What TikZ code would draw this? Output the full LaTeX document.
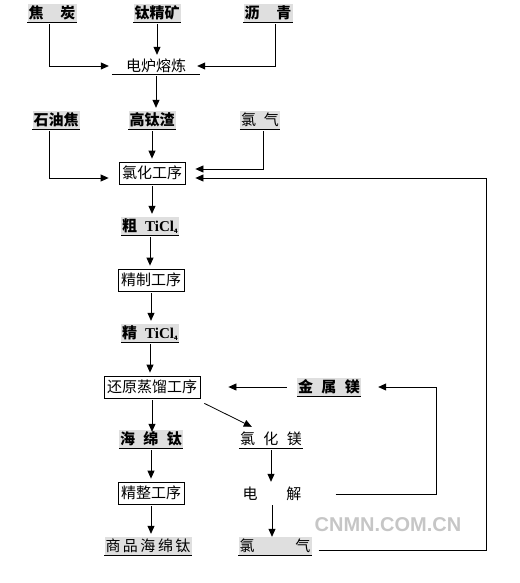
\documentclass[tikz,border=0pt]{standalone}
\usepackage{fontspec}
\newfontfamily\cjk{Noto Sans CJK SC}
\newfontfamily\latin{Liberation Serif}
\newfontfamily\wmark{Liberation Sans}
\usepackage{tikz}
\usetikzlibrary{arrows.meta}

\newcommand{\ticl}{{\latin\bfseries TiCl}\raisebox{-2pt}{\fontsize{6}{6}\selectfont 4}}

\begin{document}
\begin{tikzpicture}[x = 1pt, y = -1pt,
    every node/.style = {font = \cjk\fontsize{15}{17}\selectfont, inner sep = 1pt},
    stuff/.style = {fill = gray!25, minimum height = 18pt},
    uline/.style = {append after command = {(\tikzlastnode.south west) edge[line width = 0.8pt] (\tikzlastnode.south east)}},
    stage/.style = {draw, line width = 0.8pt, minimum height = 22pt, inner xsep = 3pt},
    flow/.style = {line width = 0.8pt, -{Triangle[length = 8pt, width = 7pt]}, shorten > = 3pt, shorten < = 2pt}]
    \useasboundingbox (+0.000, +0.000) rectangle (+519.000, +583.000);
    
    % Raw materials
    \node[stuff, uline] (coke) at (+52.000, +13.000) {\bfseries 焦\hspace{17pt}炭};
    %
    \node[stuff, uline] (ore) at (+157.000, +13.000) {\bfseries 钛精矿};
    %
    \node[stuff, uline] (pitch) at (+268.000, +13.000) {\bfseries 沥\hspace{17pt}青};
    
    \node[uline, minimum width = 88pt, minimum height = 16pt] (furnace) at (+156.000, +66.000) {电炉熔炼};
    
    \node[stuff, uline] (petcoke) at (+56.000, +120.000) {\bfseries 石油焦};
    %
    \node[stuff, uline] (slag) at (+152.000, +120.000) {\bfseries 高钛渣};
    %
    \node[stuff, uline] (chlorine) at (+260.000, +120.000) {氯\hspace{8pt}气};
    
    % Main line
    \node[stage] (chlor) at (+152.000, +173.000) {氯化工序};
    %
    \node[stuff, uline] (crude) at (+150.000, +226.000) {\bfseries 粗\hspace{8pt}\ticl};
    %
    \node[stage] (refine) at (+151.000, +280.000) {精制工序};
    %
    \node[stuff, uline] (pure) at (+150.000, +333.000) {\bfseries 精\hspace{8pt}\ticl};
    %
    \node[stage] (reduct) at (+152.000, +387.000) {还原蒸馏工序};
    %
    \node[stuff, uline] (sponge) at (+151.000, +439.000) {\bfseries 海\hspace{8.5pt}绵\hspace{8.5pt}钛};
    %
    \node[stage] (finish) at (+151.000, +493.000) {精整工序};
    %
    \node[stuff, uline] (product) at (+148.000, +546.000) {商\,品\,海\,绵\,钛};
    
    % Magnesium loop
    \node[stuff, uline] (magnesium) at (+329.000, +387.000) {\bfseries 金\hspace{8.5pt}属\hspace{8.5pt}镁};
    %
    \node[uline, minimum height = 18pt] (mgcl) at (+271.000, +439.000) {氯\hspace{8.5pt}化\hspace{8.5pt}镁};
    %
    \node[minimum height = 18pt] (elec) at (+272.000, +494.000) {电\hspace{29pt}解};
    %
    \node[stuff, uline] (gasb) at (+275.000, +546.000) {氯\hspace{41pt}气};
    
    \node[font = \wmark\bfseries\fontsize{20}{20}\selectfont, text = gray!45] (mark) at (+388.000, +525.000) {CNMN.COM.CN};
    
    \coordinate (back) at (+486.000, +550.000);
    %
    \coordinate (loop) at (+436.000, +494.000);
    
    % Arrows
    \draw[flow] ([xshift = -3pt]coke.south) |- (furnace.west);
    %
    \draw[flow] (ore.south) -- (ore.south |- furnace.north);
    %
    \draw[flow, shorten > = -3pt] ([xshift = 7pt]pitch.south) |- (furnace.east);
    
    \draw[flow] (furnace.south) -- (furnace.south |- slag.north);
    
    \draw[flow, shorten > = 10pt] ([xshift = -7pt]petcoke.south) |- ([yshift = -5pt]chlor.west);
    %
    \draw[flow] (slag.south) -- (slag.south |- chlor.north);
    %
    \draw[flow, shorten > = 10pt] ([xshift = 3pt]chlorine.south) |- ([yshift = 4pt]chlor.east);
    %
    \draw[flow, shorten < = 7pt, shorten > = 10pt] ([yshift = -4pt]gasb.east) -- (back) |- ([yshift = -5pt]chlor.east);
    
    \draw[flow] (chlor.south) -- (chlor.south |- crude.north);
    %
    \draw[flow] (crude.south) -- (crude.south |- refine.north);
    %
    \draw[flow] (refine.south) -- (refine.south |- pure.north);
    %
    \draw[flow] (pure.south) -- (pure.south |- reduct.north);
    %
    \draw[flow, shorten > = -2pt] (reduct.south) -- (reduct.south |- sponge.north);
    %
    \draw[flow] (sponge.south) -- (sponge.south |- finish.north);
    %
    \draw[flow] (finish.south) -- (finish.south |- product.north);
    
    \draw[flow, shorten < = 10pt, shorten > = 28pt] (magnesium.west) -- (reduct.east);
    %
    \draw[flow, shorten < = 0pt, shorten > = 0pt] ([shift = {(4pt, -5pt)}]reduct.south east) -- ([shift = {(13pt, 3pt)}]mgcl.north west);
    %
    \draw[flow] (mgcl.south) -- (mgcl.south |- elec.north);
    %
    \draw[flow, shorten > = 0pt] (elec.south) -- (elec.south |- gasb.north);
    %
    \draw[flow, shorten < = 33pt, shorten > = 17pt] (elec.east) -- (loop) |- (magnesium.east);
\end{tikzpicture}
\end{document}
